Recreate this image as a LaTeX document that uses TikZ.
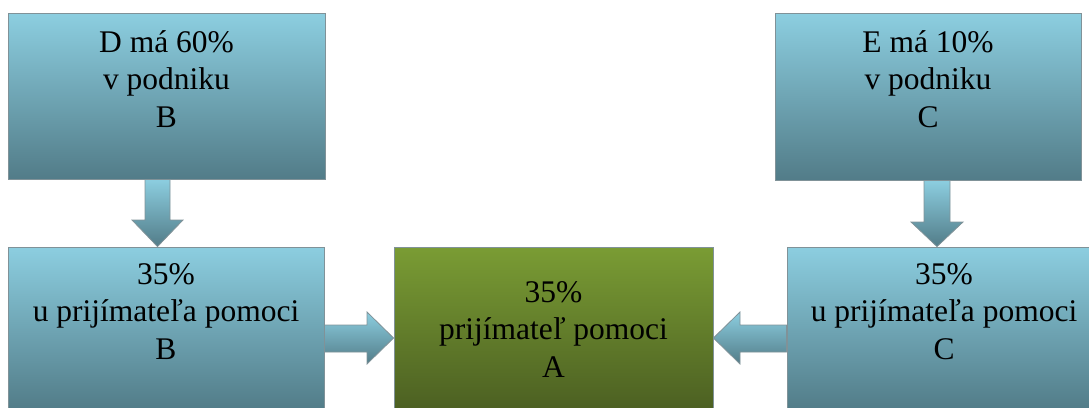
\documentclass[tikz,border=0pt]{standalone}
\usepackage{fontspec}
\setmainfont{Liberation Serif}
\newfontfamily\timesx{Liberation Serif}
\usetikzlibrary{calc}
\definecolor{bluetop}{RGB}{140,206,224}
\definecolor{bluebot}{RGB}{82,124,136}
\definecolor{greentop}{RGB}{122,156,52}
\definecolor{greenbot}{RGB}{76,96,34}
\definecolor{edgegray}{RGB}{128,146,152}
\tikzset{
  bluebox/.style={draw=edgegray, line width=0.8pt, top color=bluetop, bottom color=bluebot, inner sep=0pt},
  greenbox/.style={draw=edgegray, line width=0.8pt, top color=greentop, bottom color=greenbot, inner sep=0pt},
  blockarrow/.style={draw=edgegray, line width=0.8pt, top color=bluetop, bottom color=bluebot},
  boxtext/.style={align=center, anchor=north, inner sep=0pt, font=\timesx\fontsize{31.5}{37.5}\selectfont}
}
\begin{document}
\begin{tikzpicture}[x=1pt,y=-1pt]
\useasboundingbox (0,0) rectangle (1089,407);
% boxes
\node[bluebox, minimum width=317pt, minimum height=166pt] (D) at (166.5,96) {};
\node[bluebox, minimum width=306pt, minimum height=167pt] (E) at (928,96.5) {};
\node[bluebox, minimum width=316pt, minimum height=162pt] (B) at (166,328) {};
\node[greenbox, minimum width=319pt, minimum height=162pt] (A) at (553.5,328) {};
\node[bluebox, minimum width=303pt, minimum height=162pt] (C) at (938.5,328) {};
% texts
\node[boxtext] (Dt) at (166.5,30) {D má 60\%\\v podniku\\B};
\node[boxtext] (Et) at (928,30) {E má 10\%\\v podniku\\C};
\node[boxtext] (Bt) at (166,263) {35\%\\u prijímateľa pomoci\\B};
\node[boxtext] (At) at (553.5,281) {35\%\\prijímateľ pomoci\\A};
\node[boxtext] (Ct) at (944,263) {35\%\\u prijímateľa pomoci\\C};
% down arrows
\path[blockarrow] (145,0 |- D.south) -- (170,0 |- D.south) -- (170,220) -- (183,220)
  -- (157.5,0 |- B.north) -- (132,220) -- (145,220) -- cycle;
\path[blockarrow] (924,0 |- E.south) -- (950,0 |- E.south) -- (950,222) -- (963,222)
  -- (937,0 |- C.north) -- (911,222) -- (924,222) -- cycle;
% horizontal arrows
\path[blockarrow] (B.east |- 0,325) -- (367,325) -- (367,312) -- (A.west |- 0,338)
  -- (367,364) -- (367,352) -- (B.east |- 0,352) -- cycle;
\path[blockarrow] (C.west |- 0,325) -- (740,325) -- (740,312) -- (A.east |- 0,338)
  -- (740,364) -- (740,352) -- (C.west |- 0,352) -- cycle;
\end{tikzpicture}
\end{document}
